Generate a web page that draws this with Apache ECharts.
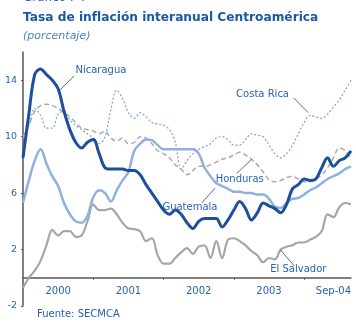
<!DOCTYPE html>
<html lang="es">
<head>
<meta charset="utf-8">
<title>Tasa de inflación interanual Centroamérica</title>
<script src="https://cdn.jsdelivr.net/npm/echarts@6/dist/echarts.min.js"></script>
<style>
  html, body { margin: 0; padding: 0; background: #fff; }
  #chart { width: 356px; height: 329px; }
</style>
</head>
<body>
<div id="chart"></div>
<script>
// meses ene-2000 .. sep-2004
var years = ['00', '01', '02', '03', '04'];
var months = [];
years.forEach(function (y) {
  for (var m = 1; m <= 12; m++) {
    if (y === '04' && m > 9) break;
    months.push(m + '-' + y);
  }
});

// etiquetas del eje x (indice del mes, texto)
var labelIdx = [6, 18, 30, 42, 56];
var labelText = ['2000', '2001', '2002', '2003', 'Sep-04'];
var yearStartIdx = [12, 24, 36, 48];

var nicaragua = [8.5, 11.6, 14.4, 14.8, 14.4, 14.0, 13.4, 11.8, 10.5, 9.6, 9.2, 9.6, 9.8, 8.8, 7.8, 7.7, 7.7, 7.7, 7.6, 7.6, 7.3, 6.6, 6.0, 5.4, 4.8, 4.5, 4.8, 4.5, 3.9, 3.5, 4.0, 4.2, 4.2, 4.2, 3.6, 4.1, 4.8, 5.4, 4.9, 4.1, 4.6, 5.3, 5.1, 4.9, 4.6, 5.2, 6.3, 6.6, 7.0, 6.9, 7.0, 7.8, 8.5, 7.9, 8.3, 8.5, 9.0];
var costaRica = [9.9, 10.8, 12.0, 11.5, 10.6, 10.6, 11.6, 11.8, 11.2, 10.8, 10.5, 10.2, 9.9, 9.5, 10.0, 11.9, 13.3, 12.7, 11.7, 11.3, 11.7, 11.4, 11.0, 10.9, 10.8, 10.5, 9.6, 7.7, 8.3, 8.8, 9.1, 9.3, 9.5, 9.9, 10.0, 9.8, 9.4, 9.4, 9.8, 10.2, 10.1, 10.0, 9.4, 8.8, 8.5, 8.8, 9.4, 10.2, 11.0, 11.5, 11.4, 11.3, 11.6, 12.1, 12.6, 13.3, 14.0];
var honduras = [10.0, 10.8, 11.8, 12.2, 12.3, 12.2, 12.0, 11.7, 11.4, 11.0, 10.6, 10.5, 10.4, 10.2, 10.4, 9.9, 9.7, 9.9, 9.5, 9.6, 10.0, 9.9, 9.5, 9.0, 8.8, 8.5, 8.0, 7.7, 7.3, 7.6, 7.9, 7.9, 8.0, 8.2, 8.4, 8.5, 8.7, 8.9, 8.7, 8.4, 8.0, 7.5, 6.95, 6.8, 6.9, 7.1, 7.2, 7.0, 6.8, 6.8, 7.0, 7.3, 7.8, 8.5, 9.2, 9.0, 8.4];
var guatemala = [5.3, 6.9, 8.3, 9.1, 8.1, 7.2, 6.5, 5.3, 4.5, 4.0, 3.9, 4.4, 5.7, 6.2, 6.0, 5.4, 6.2, 6.9, 7.5, 9.0, 9.5, 9.8, 9.75, 9.4, 9.1, 9.1, 9.1, 9.1, 9.1, 9.1, 8.8, 7.8, 7.2, 6.7, 6.5, 6.3, 6.1, 6.1, 6.0, 6.0, 5.9, 5.9, 5.6, 5.05, 4.95, 5.3, 5.6, 5.65, 5.9, 6.2, 6.4, 6.7, 7.0, 7.2, 7.4, 7.7, 7.9];
var elSalvador = [-0.7, 0.0, 0.5, 1.2, 2.3, 3.4, 3.0, 3.3, 3.3, 2.9, 3.0, 4.0, 5.2, 4.8, 4.8, 4.9, 4.5, 3.9, 3.5, 3.45, 3.3, 2.6, 2.8, 1.6, 1.0, 1.0, 1.4, 1.8, 2.1, 1.7, 2.2, 2.3, 1.4, 2.6, 1.4, 2.7, 2.8, 2.6, 2.3, 1.9, 1.6, 1.1, 1.4, 1.3, 2.0, 2.2, 2.3, 2.5, 2.5, 2.7, 2.9, 3.3, 4.5, 4.3, 5.0, 5.3, 5.2];

// rótulos de cada país: [mes, valor] del texto y de la línea guía
var noteNames = ['Nicaragua', 'Costa Rica', 'Honduras', 'Guatemala', 'El Salvador'];
var notePos = [[13.3, 14.7], [40.9, 13.0], [37.0, 7.0], [28.5, 5.0], [47.0, 0.6]];
var noteLeader = [
  [[8.7, 14.3], [6.3, 13.3]],
  [[46.2, 12.75], [48.7, 11.7]],
  [[36.5, 7.4], [39.05, 8.4]],
  [[30.5, 5.3], [32.8, 6.36]],
  [[46.3, 0.85], [43.9, 2.0]]
];

var blue = '#2862b2';
var font = 'DejaVu Sans';
var chart = echarts.init(document.getElementById('chart'));

function lineSeries(name, data, color, width, type, z) {
  return {
    name: name, type: 'line', data: data, smooth: 0.35,
    showSymbol: false, z: z,
    lineStyle: { color: color, width: width, type: type }
  };
}

var option = {
  animation: false,
  textStyle: { fontFamily: font },
  title: [
    { text: 'Gráfico I-4', left: 23, top: -8, padding: 0,
      textStyle: { color: blue, fontSize: 12, fontWeight: 'normal', fontFamily: font } },
    { text: 'Tasa de inflación interanual Centroamérica', left: 23, top: 12, padding: 0,
      textStyle: { color: '#1a57a6', fontSize: 12.2, fontWeight: 'bold', fontFamily: font } },
    { text: '(porcentaje)', left: 23, top: 31, padding: 0,
      textStyle: { color: '#4f80c6', fontSize: 11, fontWeight: 'normal', fontStyle: 'italic', fontFamily: font } },
    { text: 'Fuente: SECMCA', left: 37, top: 309, padding: 0,
      textStyle: { color: blue, fontSize: 10, fontWeight: 'normal', fontFamily: font } }
  ],
  grid: { left: 23, right: 5, top: 52, bottom: 23, outerBoundsMode: 'none' },
  xAxis: [{
    type: 'category', data: months, boundaryGap: false,
    axisLine: { onZero: true, onZeroAxisIndex: 0, lineStyle: { color: '#555', width: 1.5 } },
    axisTick: {
      show: true, length: 2,
      interval: function (i) { return yearStartIdx.indexOf(i) >= 0; },
      lineStyle: { color: '#555' }
    },
    axisLabel: {
      interval: function (i) { return labelIdx.indexOf(i) >= 0; },
      formatter: function (v, i) { var k = labelIdx.indexOf(i); return k >= 0 ? labelText[k] : ''; },
      color: blue, fontSize: 10, margin: -20, alignMaxLabel: 'right'
    },
    splitLine: { show: false }
  }, {
    type: 'value', min: 0, max: 56, show: false,
    axisLine: { onZero: false }
  }],
  yAxis: {
    type: 'value', min: -2, max: 16, interval: 4,
    axisLine: { show: true, onZero: false, lineStyle: { color: '#555', width: 1.5 } },
    axisTick: { show: true, length: 2, lineStyle: { color: '#555' } },
    axisLabel: { showMaxLabel: false, color: blue, fontSize: 9.5, margin: 6 },
    splitLine: { show: false }
  },
  series: [
    lineSeries('Costa Rica', costaRica, '#7f9fd6', 1.2, [2, 2], 2),
    lineSeries('Honduras', honduras, '#ababab', 1.5, [5, 3], 2),
    lineSeries('El Salvador', elSalvador, '#a6a6a6', 2.2, 'solid', 3),
    lineSeries('Guatemala', guatemala, '#8fb1df', 2.5, 'solid', 3),
    lineSeries('Nicaragua', nicaragua, '#1c4f9c', 3, 'solid', 4),
    {
      type: 'line', xAxisIndex: 1, data: [], silent: true, z: 5,
      markLine: {
        silent: true, symbol: ['none', 'none'], animation: false,
        lineStyle: { color: '#444', width: 0.8, type: 'solid' },
        label: { show: false },
        data: noteLeader.map(function (p) { return [{ coord: p[0] }, { coord: p[1] }]; })
      },
      markPoint: {
        silent: true, symbol: 'circle', symbolSize: 1, animation: false,
        itemStyle: { color: 'rgba(0,0,0,0)' },
        label: { show: true, position: 'inside', formatter: '{b}', color: blue,
          fontSize: 10, fontFamily: font },
        data: noteNames.map(function (n, i) { return { name: n, coord: notePos[i] }; })
      }
    }
  ]
};
chart.setOption(option);
</script>
</body>
</html>
